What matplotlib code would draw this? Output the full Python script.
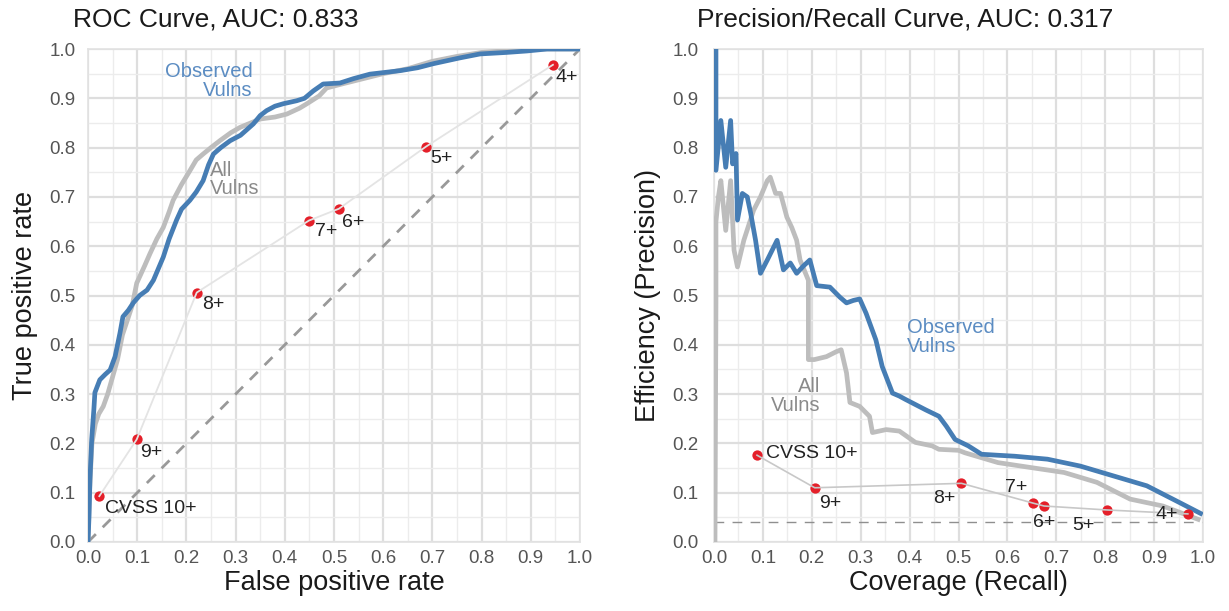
import matplotlib
matplotlib.use("Agg")
import matplotlib.pyplot as plt
from matplotlib.ticker import MultipleLocator

plt.rcParams['font.family'] = ['Liberation Sans', 'DejaVu Sans']

# ---------------- data ----------------
roc_obs_fpr = [0, 0.002, 0.004, 0.0075, 0.012, 0.014, 0.024, 0.035, 0.045, 0.055, 0.065, 0.071,
               0.082, 0.092, 0.105, 0.12, 0.133, 0.153, 0.165, 0.18, 0.19, 0.207, 0.22, 0.234,
               0.245, 0.255, 0.27, 0.289, 0.31, 0.336, 0.35, 0.363, 0.38, 0.397, 0.424, 0.44,
               0.458, 0.478, 0.512, 0.54, 0.573, 0.634, 0.67, 0.701, 0.756, 0.797, 0.85, 0.892,
               0.933, 1.0]
roc_obs_tpr = [0, 0.05, 0.127, 0.208, 0.27, 0.303, 0.329, 0.34, 0.349, 0.376, 0.424, 0.457,
               0.47, 0.485, 0.50, 0.511, 0.531, 0.578, 0.615, 0.653, 0.675, 0.693, 0.71, 0.733,
               0.765, 0.787, 0.80, 0.814, 0.825, 0.848, 0.865, 0.875, 0.884, 0.889, 0.895, 0.90,
               0.915, 0.929, 0.931, 0.94, 0.949, 0.956, 0.962, 0.97, 0.982, 0.99, 0.993, 0.996,
               1.0, 1.0]

roc_all_fpr = [0, 0.003, 0.008, 0.015, 0.022, 0.031, 0.04, 0.05, 0.06, 0.07, 0.08, 0.09, 0.099,
               0.115, 0.126, 0.14, 0.153, 0.165, 0.173, 0.19, 0.207, 0.22, 0.234, 0.25, 0.268,
               0.29, 0.309, 0.35, 0.38, 0.404, 0.43, 0.445, 0.47, 0.485, 0.52, 0.56, 0.6, 0.65,
               0.7, 0.75, 0.8, 0.9, 1.0]
roc_all_tpr = [0, 0.1, 0.2, 0.24, 0.26, 0.275, 0.30, 0.335, 0.37, 0.42, 0.45, 0.48, 0.525,
               0.56, 0.585, 0.615, 0.638, 0.67, 0.693, 0.725, 0.753, 0.775, 0.787, 0.80, 0.814,
               0.83, 0.841, 0.858, 0.862, 0.868, 0.88, 0.889, 0.905, 0.921, 0.93, 0.94, 0.95,
               0.96, 0.975, 0.985, 0.993, 1.0, 1.0]

pr_obs_rec = [0.004, 0.004, 0.014, 0.024, 0.034, 0.038, 0.045, 0.048, 0.058, 0.068, 0.075,
              0.085, 0.095, 0.109, 0.129, 0.142, 0.156, 0.169, 0.183, 0.196, 0.21, 0.237,
              0.257, 0.271, 0.285, 0.298, 0.311, 0.331, 0.344, 0.365, 0.379, 0.392, 0.433,
              0.46, 0.475, 0.493, 0.52, 0.547, 0.58, 0.615, 0.682, 0.749, 0.817, 0.885,
              0.952, 0.995]
pr_obs_prec = [1.0, 0.754, 0.855, 0.76, 0.855, 0.767, 0.788, 0.653, 0.707, 0.70, 0.667,
               0.612, 0.545, 0.572, 0.612, 0.552, 0.566, 0.545, 0.56, 0.572, 0.52, 0.517,
               0.497, 0.485, 0.49, 0.493, 0.464, 0.41, 0.356, 0.302, 0.296, 0.289, 0.268,
               0.255, 0.235, 0.208, 0.195, 0.178, 0.176, 0.174, 0.168, 0.154, 0.134, 0.114,
               0.08, 0.058]

pr_all_rec = [0.002, 0.004, 0.004, 0.009, 0.014, 0.024, 0.034, 0.041, 0.048, 0.061, 0.081,
              0.095, 0.109, 0.115, 0.126, 0.136, 0.149, 0.159, 0.169, 0.176, 0.193, 0.193,
              0.205, 0.23, 0.25, 0.26, 0.271, 0.278, 0.298, 0.318, 0.324, 0.352, 0.379,
              0.412, 0.446, 0.46, 0.5, 0.513, 0.581, 0.648, 0.716, 0.783, 0.851, 0.918, 0.99]
pr_all_prec = [0.0, 0.49, 0.65, 0.70, 0.733, 0.632, 0.733, 0.592, 0.558, 0.612, 0.673,
               0.70, 0.733, 0.74, 0.707, 0.707, 0.659, 0.638, 0.612, 0.572, 0.531, 0.37,
               0.37, 0.376, 0.386, 0.39, 0.343, 0.283, 0.275, 0.255, 0.222, 0.228, 0.225,
               0.202, 0.195, 0.188, 0.186, 0.181, 0.161, 0.151, 0.141, 0.121, 0.087, 0.073,
               0.046]

cvss_labels = ["CVSS 10+", "9+", "8+", "7+", "6+", "5+", "4+"]
cvss_roc_fpr = [0.023, 0.099, 0.221, 0.449, 0.510, 0.687, 0.945]
cvss_roc_tpr = [0.093, 0.208, 0.506, 0.652, 0.676, 0.802, 0.968]
cvss_pr_rec = [0.088, 0.206, 0.506, 0.652, 0.675, 0.803, 0.969]
cvss_pr_prec = [0.176, 0.110, 0.119, 0.079, 0.073, 0.065, 0.057]

# label positions (data coords)
roc_lab_x = [0.035, 0.129, 0.254, 0.485, 0.539, 0.719, 0.973]
roc_lab_y = [0.067, 0.181, 0.481, 0.629, 0.649, 0.778, 0.942]
roc_lab_ha = ["left", "center", "center", "center", "center", "center", "center"]
pr_lab_x = [0.107, 0.237, 0.47, 0.618, 0.676, 0.755, 0.926]
pr_lab_y = [0.18, 0.078, 0.088, 0.11, 0.039, 0.034, 0.056]
pr_lab_ha = ["left", "center", "center", "center", "center", "center", "center"]

baseline_prec = 0.04
ticks = [0.0, 0.1, 0.2, 0.3, 0.4, 0.5, 0.6, 0.7, 0.8, 0.9, 1.0]
tick_labels = ["0.0", "0.1", "0.2", "0.3", "0.4", "0.5", "0.6", "0.7", "0.8", "0.9", "1.0"]

# ---------------- style ----------------
BLUE = "#467db4"
BLUE_TXT = "#5b8cc2"
GRAY = "#bdbdbd"
GRAY_TXT = "#8a8a8a"
RED = "#e4202a"

fig = plt.figure(figsize=(12.29, 6.11), dpi=100)
ax1 = fig.add_axes([88/1229, 69/611, 492/1229, 493/611])
ax2 = fig.add_axes([714/1229, 69/611, 489/1229, 493/611])


def style(ax, pad_y):
    ax.set_xlim(0, 1)
    ax.set_ylim(0, 1)
    ax.set_xticks(ticks)
    ax.set_xticklabels(tick_labels)
    ax.set_yticks(ticks)
    ax.set_yticklabels(tick_labels)
    ax.xaxis.set_minor_locator(MultipleLocator(0.05))
    ax.yaxis.set_minor_locator(MultipleLocator(0.05))
    ax.grid(which="major", color="#dedede", lw=1.6, zorder=0)
    ax.grid(which="minor", color="#ececec", lw=1.0, zorder=0)
    ax.set_axisbelow(True)
    ax.tick_params(which="both", length=0)
    ax.tick_params(axis="x", pad=6, labelsize=13.5, labelcolor="#555555")
    ax.tick_params(axis="y", pad=pad_y, labelsize=13.5, labelcolor="#555555")
    for s in ax.spines.values():
        s.set_color("#e2e2e2")
        s.set_linewidth(1.2)


style(ax1, 9)
style(ax2, 11)

# ---- ROC ----
ax1.plot([0, 1], [0, 1], color="#999999", lw=2.0, ls=(0, (4, 3.5)), zorder=2)
ax1.plot(roc_all_fpr, roc_all_tpr, color=GRAY, lw=3.4, zorder=3, solid_joinstyle="round")
ax1.plot(roc_obs_fpr, roc_obs_tpr, color=BLUE, lw=3.4, zorder=4, solid_joinstyle="round")
ax1.scatter(cvss_roc_fpr, cvss_roc_tpr, s=55, color=RED, zorder=5, linewidths=0)
ax1.plot(cvss_roc_fpr, cvss_roc_tpr, color="#e4e4e4", lw=1.3, zorder=6)
for lx, ly, lab, ha in zip(roc_lab_x, roc_lab_y, cvss_labels, roc_lab_ha):
    ax1.text(lx, ly, lab, ha=ha, va="center", fontsize=14, color="#222222", zorder=7)
ax1.text(0.335, 0.935, "Observed\nVulns", ha="right", va="center", fontsize=14.5,
         color=BLUE_TXT, linespacing=0.95, zorder=7)
ax1.text(0.248, 0.735, "All\nVulns", ha="left", va="center", fontsize=14.5,
         color=GRAY_TXT, linespacing=0.95, zorder=7)

# ---- PR ----
ax2.axhline(baseline_prec, color="#8f8f8f", lw=1.0, ls=(0, (7, 6)), zorder=2)
ax2.plot(pr_all_rec, pr_all_prec, color=GRAY, lw=3.4, zorder=3, solid_joinstyle="round")
ax2.plot(pr_obs_rec, pr_obs_prec, color=BLUE, lw=3.4, zorder=4, solid_joinstyle="round")
ax2.scatter(cvss_pr_rec, cvss_pr_prec, s=55, color=RED, zorder=5, linewidths=0)
ax2.plot(cvss_pr_rec, cvss_pr_prec, color="#c8c8c8", lw=1.2, zorder=6)
for lx, ly, lab, ha in zip(pr_lab_x, pr_lab_y, cvss_labels, pr_lab_ha):
    ax2.text(lx, ly, lab, ha=ha, va="center", fontsize=14, color="#222222", zorder=7)
ax2.text(0.395, 0.416, "Observed\nVulns", ha="left", va="center", fontsize=14.5,
         color=BLUE_TXT, linespacing=0.95, zorder=7)
ax2.text(0.217, 0.296, "All\nVulns", ha="right", va="center", fontsize=14.5,
         color=GRAY_TXT, linespacing=0.95, zorder=7)

# ---- titles & axis labels ----
fig.text(73/1229, 1 - 19/611, "ROC Curve, AUC: 0.833", ha="left", va="center",
         fontsize=19, color="#1a1a1a")
fig.text(697/1229, 1 - 19/611, "Precision/Recall Curve, AUC: 0.317", ha="left", va="center",
         fontsize=19, color="#1a1a1a")
fig.text(334/1229, 1 - 583/611, "False positive rate", ha="center", va="center",
         fontsize=19.5, color="#1a1a1a")
fig.text(958/1229, 1 - 583/611, "Coverage (Recall)", ha="center", va="center",
         fontsize=19.5, color="#1a1a1a")
fig.text(25/1229, 1 - 295/611, "True positive rate", ha="center", va="center",
         rotation=90, fontsize=19.5, color="#1a1a1a")
fig.text(648/1229, 1 - 295/611, "Efficiency (Precision)", ha="center", va="center",
         rotation=90, fontsize=19.5, color="#1a1a1a")

fig.savefig("out.png", dpi=100, facecolor="white")
